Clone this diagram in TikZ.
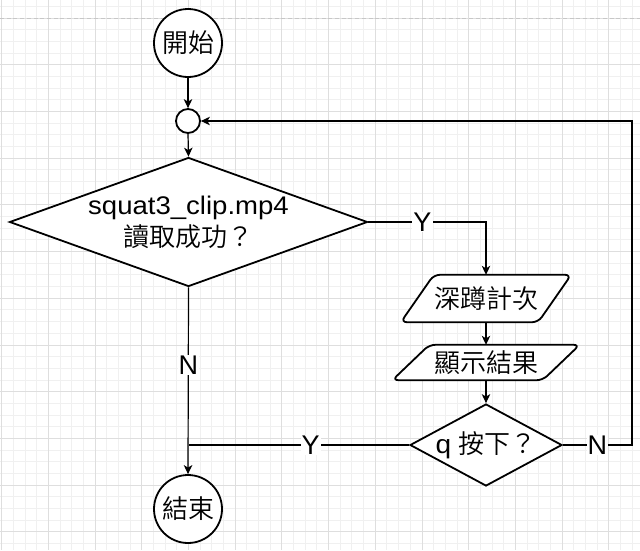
\documentclass[tikz,border=0pt]{standalone}
\usepackage{fontspec}
\setmainfont{Liberation Sans}
\IfFontExistsTF{Noto Sans CJK TC DemiLight}
  {\newfontfamily\cjk{Noto Sans CJK TC DemiLight}}
  {\IfFontExistsTF{Noto Sans CJK TC Light}
     {\newfontfamily\cjk{Noto Sans CJK TC Light}}
     {\newfontfamily\cjk{Noto Sans CJK TC}}}
\newfontfamily\lat[FakeStretch=1.08]{Liberation Sans}
\usetikzlibrary{shapes.geometric,arrows.meta}
\pgfdeclarelayer{grid}
\pgfdeclarelayer{bg}
\pgfsetlayers{grid,bg,main}
\tikzset{
  minorg/.style={draw=black!6, line width=0.8pt},
  majorg/.style={draw=black!13, line width=0.8pt},
  dashg/.style={draw=black!22, line width=1pt, dash pattern=on 4pt off 2.7pt},
  shp/.style={draw=black, fill=white, line width=1.8pt},
  circ/.style={shp, circle, inner sep=0pt},
  dia/.style={shp, diamond, inner sep=0pt, align=center},
  para/.style={inner sep=0pt},
  paraline/.style={draw=black, fill=white, line width=1.8pt, rounded corners=6pt},
  edge/.style={draw=black, line width=1.2pt},
  arr/.style={edge, -{Stealth[length=9pt,width=8.5pt,inset=2.5pt]}},
  lab/.style={fill=white, inner sep=1pt, font=\fontsize{27}{27}\selectfont},
  cj/.style={font=\cjk\fontsize{26}{32}\selectfont}
}
\begin{document}
\begin{tikzpicture}[x=1pt,y=-1pt]
\useasboundingbox (0,0) rectangle (640,550);
\begin{pgfonlayer}{grid}
\fill[white] (0,0) rectangle (640,550);
\foreach \k in {0,...,54} {\draw[minorg] ({1.6+11.675*\k},0) -- ({1.6+11.675*\k},550);}
\foreach \k in {-1,...,45} {\draw[minorg] (0,{18+11.675*\k}) -- (640,{18+11.675*\k});}
\foreach \k in {0,...,13} {\draw[majorg] ({1.6+46.7*\k},0) -- ({1.6+46.7*\k},550);}
\foreach \k in {0,...,11} {\draw[majorg] (0,{18+46.7*\k}) -- (640,{18+46.7*\k});}
\draw[dashg] (0,18) -- (640,18);
\end{pgfonlayer}

% nodes
\node[circ, cj, minimum size=68pt] (start) at (188,43) {開始};
\node[circ, minimum size=24pt] (junc) at (188,121) {};
\node[dia, minimum width=358pt, minimum height=129pt, aspect=2.775,
      font=\fontsize{26}{32}\selectfont] (d1) at (188.5,222)
      {{\lat\fontsize{25.5}{32}\selectfont squat3\_clip.mp4}\\{\cjk 讀取成功？}};
\node[para, cj, minimum width=170pt, minimum height=47pt] (p1) at (486,298.5) {深蹲計次};
\node[para, cj, minimum width=187pt, minimum height=35pt] (p2) at (486,362.5) {顯示結果};
\node[dia, minimum width=152pt, minimum height=82pt, aspect=1.854,
      font=\fontsize{26}{32}\selectfont] (d2) at (486,445)
      {{\lat q} {\cjk 按下？}};
\node[circ, cj, minimum size=68pt] (end) at (188,509) {結束};
\coordinate (loop) at (632,121);

\begin{pgfonlayer}{bg}
\path[paraline] (p1.south west) -- ([xshift=-33pt]p1.south east) -- (p1.north east)
   -- ([xshift=33pt]p1.north west) -- cycle;
\path[paraline] (p2.south west) -- ([xshift=-37pt]p2.south east) -- (p2.north east)
   -- ([xshift=37pt]p2.north west) -- cycle;
\end{pgfonlayer}

% connectors
\draw[arr] (start.south) -- (junc.north);
\draw[arr] (junc.south) -- (d1.north);
\draw[arr] (d1.east) -| node[lab, pos=0.23] {Y} (p1.north);
\draw[arr] (p1.south) -- (p2.north);
\draw[arr] (p2.south) -- (d2.north);
\draw[arr] (d2.east) -| node[lab, pos=0.25] {N} (loop) -- (junc.east);
\draw[edge] (d2.west) -- node[lab, pos=0.446] {Y} (d2.west -| d1.south);
\draw[arr] (d1.south) -- node[lab, pos=0.415] {N} (end.north);
\end{tikzpicture}
\end{document}
